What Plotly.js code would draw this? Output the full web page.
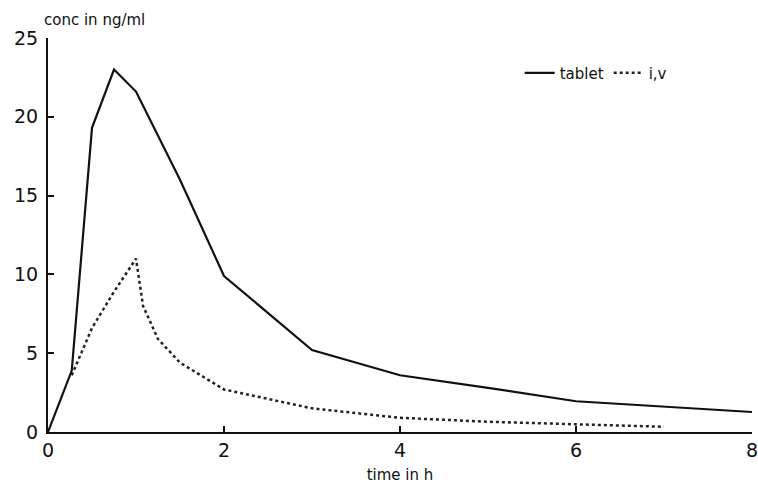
<!DOCTYPE html>
<html>
<head>
<meta charset="utf-8">
<script src="https://cdn.plot.ly/plotly-3.0.1.min.js"></script>
<style>html,body{margin:0;padding:0;background:#fff;}#chart{width:758px;height:489px;}</style>
</head>
<body>
<div id="chart"></div>
<script>
// Tablet series (time in h, conc in ng/ml)
var tabletTime = [0, 0.27, 0.5, 0.75, 1.0, 1.5, 2.0, 3.0, 4.0, 5.0, 6.0, 7.0, 8.0];
var tabletConc = [0, 3.9, 19.3, 23.0, 21.6, 16.0, 9.9, 5.2, 3.6, 2.8, 1.95, 1.6, 1.27];
// i.v series
var ivTime = [0.27, 0.5, 0.75, 1.0, 1.08, 1.25, 1.5, 2.0, 3.0, 4.0, 5.0, 6.0, 7.0];
var ivConc = [3.6, 6.6, 8.9, 11.0, 8.0, 5.9, 4.4, 2.7, 1.5, 0.9, 0.65, 0.5, 0.33];
var xTicks = [0, 2, 4, 6, 8];
var yTicks = [0, 5, 10, 15, 20, 25];
var seriesNames = ["tablet", "i,v"];

var fontFam = "DejaVu Sans, sans-serif";
var traces = [
  {x: tabletTime, y: tabletConc, name: seriesNames[0], type: "scatter", mode: "lines",
   line: {color: "#111", width: 2.2}},
  {x: ivTime, y: ivConc, name: seriesNames[1], type: "scatter", mode: "lines",
   line: {color: "#222", width: 2.5, dash: "dot"}}
];
var layout = {
  width: 758, height: 489,
  margin: {l: 48, r: 6, t: 38, b: 57},
  paper_bgcolor: "#fff", plot_bgcolor: "#fff",
  showlegend: true,
  legend: {orientation: "h", x: 0.67, y: 0.911, xanchor: "left", yanchor: "middle",
           font: {family: fontFam, size: 15, color: "#111"}, bgcolor: "rgba(0,0,0,0)"},
  xaxis: {range: [0, 8], tickvals: xTicks, ticktext: xTicks.map(String),
          showline: true, linecolor: "#111", linewidth: 2, ticks: "inside", ticklen: 6,
          tickcolor: "#111", tickwidth: 2, showgrid: false, zeroline: false,
          ticklabeloverflow: "allow",
          tickfont: {family: fontFam, size: 19, color: "#111"},
          title: {text: "time in h", font: {family: fontFam, size: 15, color: "#111"}, standoff: 10}},
  yaxis: {range: [0, 25], tickvals: yTicks, ticktext: yTicks.map(String),
          showline: true, linecolor: "#111", linewidth: 2, ticks: "inside", ticklen: 6,
          tickcolor: "#111", tickwidth: 2, showgrid: false, zeroline: false,
          tickfont: {family: fontFam, size: 19, color: "#111"}, ticklabelstandoff: 4},
  annotations: [
    {text: "conc in ng/ml", xref: "paper", yref: "paper", x: -0.008, y: 1.046, xanchor: "left",
     yanchor: "middle", showarrow: false, font: {family: fontFam, size: 15, color: "#111"}}
  ]
};
Plotly.newPlot("chart", traces, layout, {displayModeBar: false, staticPlot: true});
</script>
</body>
</html>
